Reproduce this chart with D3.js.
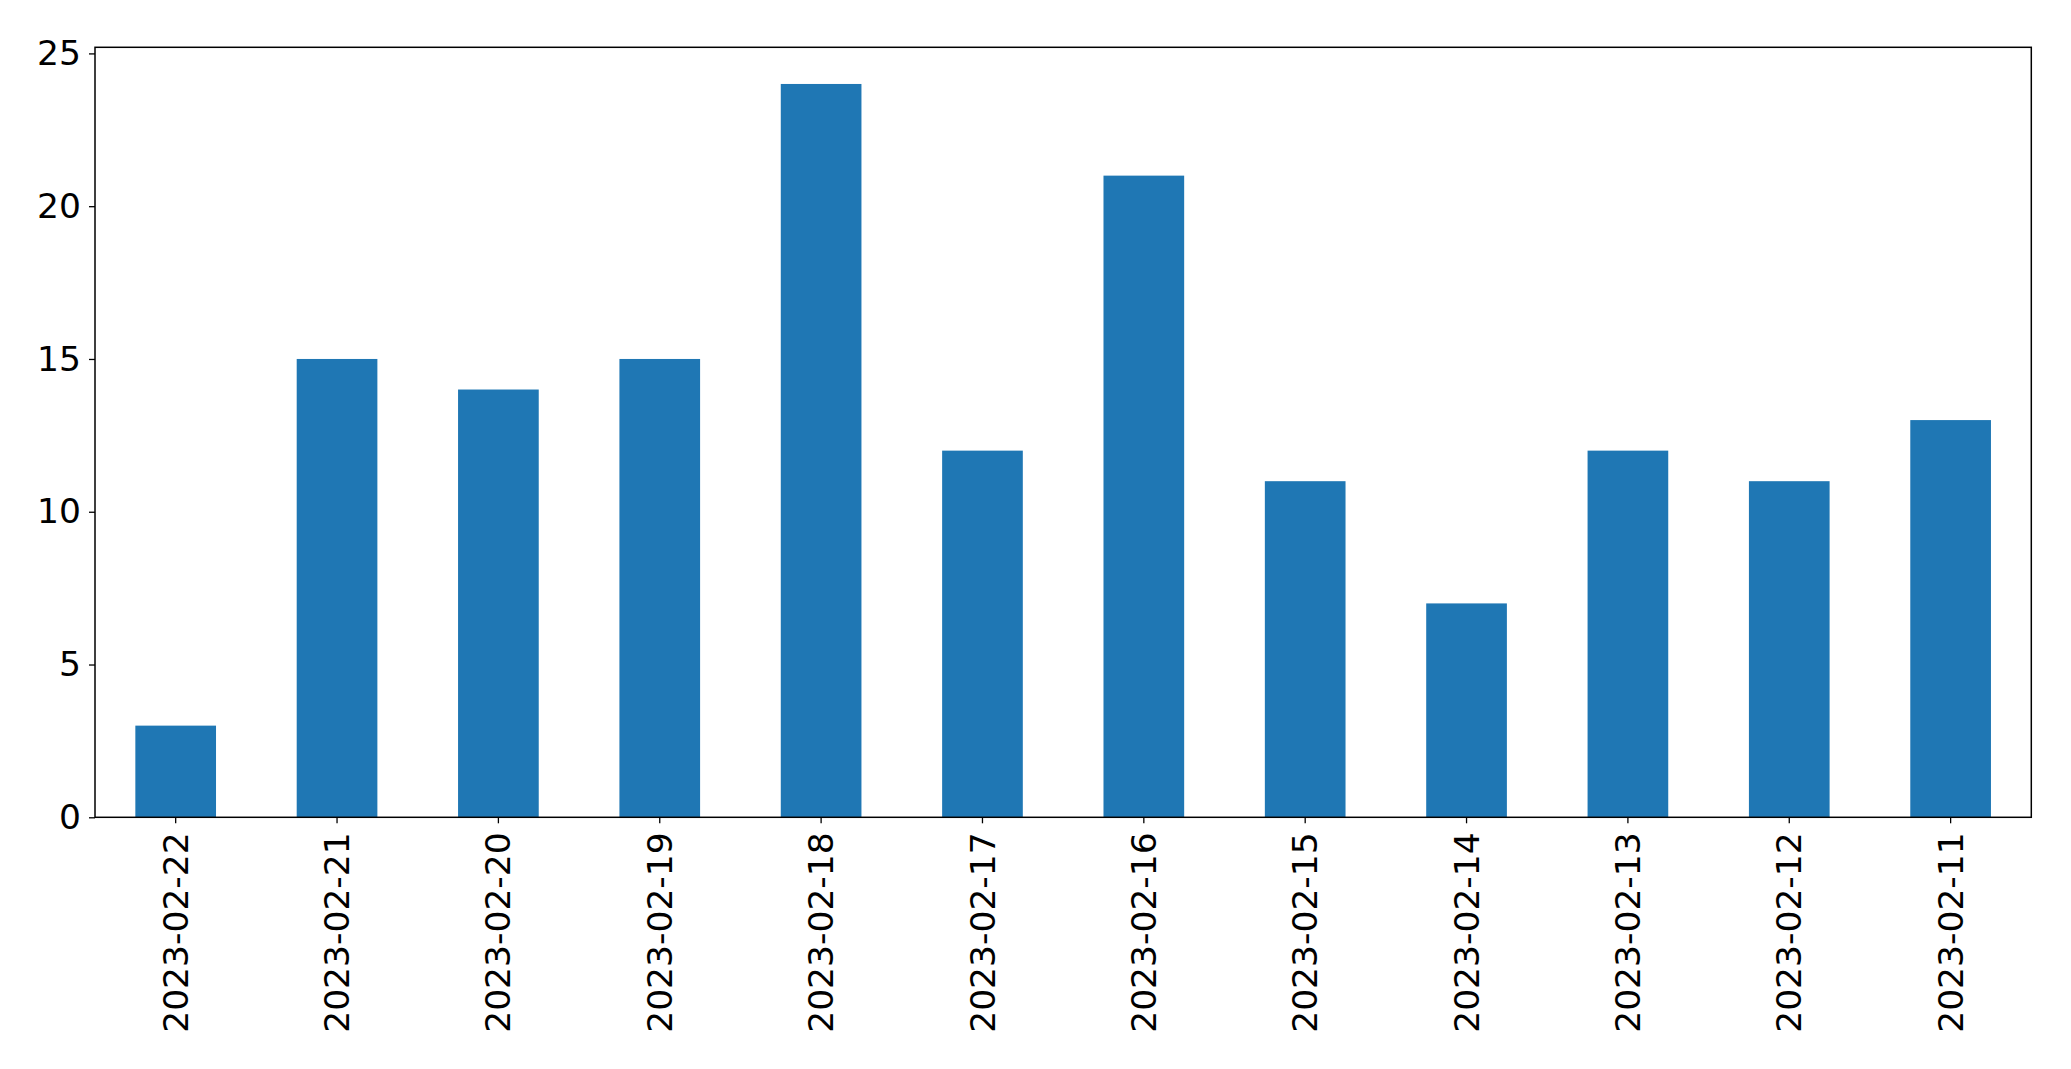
<!DOCTYPE html>
<html>
<head>
<meta charset="utf-8">
<script src="https://cdn.jsdelivr.net/npm/d3@7"></script>
<style>
  body { margin: 0; background: #fff; }
  svg { display: block; }
  .tick text { font-family: "DejaVu Sans", sans-serif; }
</style>
</head>
<body>
<div id="chart"></div>
<script>
var dates = ["2023-02-22", "2023-02-21", "2023-02-20", "2023-02-19", "2023-02-18", "2023-02-17",
             "2023-02-16", "2023-02-15", "2023-02-14", "2023-02-13", "2023-02-12", "2023-02-11"];
var counts = [3, 15, 14, 15, 24, 12, 21, 11, 7, 12, 11, 13];
var yTicks = [0, 5, 10, 15, 20, 25];

(function(){
    var W = 2071, H = 1069;
    var margin = {top: 47.3, right: 39.7, bottom: 251.7, left: 95},
      width = W - margin.left - margin.right,
      height = H - margin.top - margin.bottom;

    var svg = d3.select("#chart").append("svg")
      .attr("width", W)
      .attr("height", H)
    .append("g")
      .attr("transform", "translate(" + margin.left + "," + margin.top + ")");

    var x = d3.scaleBand()
      .domain(dates)
      .range([0, width])
      .paddingInner(0.5)
      .paddingOuter(0.25);

    var y = d3.scaleLinear()
      .domain([0, d3.max(counts) * 1.05])
      .range([height, 0]);

    // bars
    svg.selectAll(".bar")
      .data(counts)
      .enter().append("rect")
      .attr("class", "bar")
      .attr("x", function(d, i) { return x(dates[i]); })
      .attr("width", x.bandwidth())
      .attr("y", function(d) { return y(d); })
      .attr("height", function(d) { return height - y(d); })
      .attr("fill", "#1f77b4");

    // axes
    var yAxis = svg.append("g")
      .call(d3.axisLeft(y).tickValues(yTicks).tickSize(6).tickPadding(8).tickFormat(d3.format("d")));
    var xAxis = svg.append("g")
      .attr("transform", "translate(0," + height + ")")
      .call(d3.axisBottom(x).tickSize(6).tickPadding(8));

    [xAxis, yAxis].forEach(function(a) {
        a.select(".domain").remove();
        a.selectAll(".tick line").attr("stroke", "#000").attr("stroke-width", 1.3);
        a.selectAll(".tick text").attr("fill", "#000").style("font-size", "34.5px");
    });

    xAxis.selectAll(".tick text")
      .attr("transform", "rotate(-90)")
      .attr("text-anchor", "end")
      .attr("x", -15)
      .attr("y", 0)
      .attr("dy", "0.35em");

    // frame
    svg.append("rect")
      .attr("width", width)
      .attr("height", height)
      .attr("fill", "none")
      .attr("stroke", "#000")
      .attr("stroke-width", 1.5);
})();
</script>
</body>
</html>
